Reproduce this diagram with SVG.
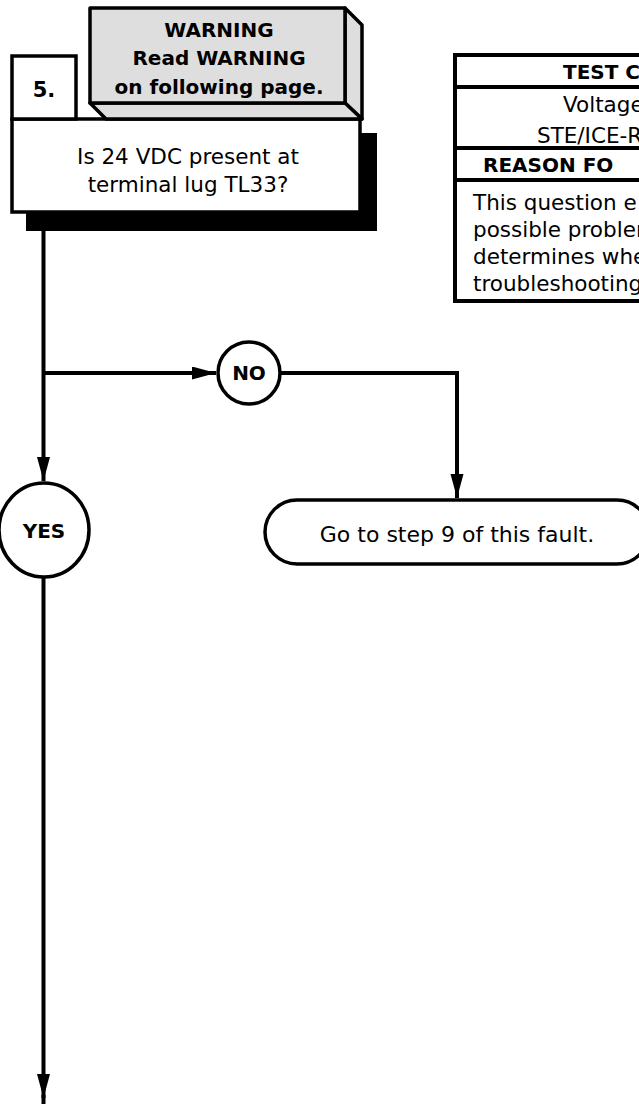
<svg xmlns="http://www.w3.org/2000/svg" width="639" height="1104" viewBox="0 0 639 1104">
<style>
text{font-family:"DejaVu Sans",Verdana,sans-serif;fill:#000}
.r{font-size:21.5px}
.g{font-size:22px}
.b{font-size:20px;font-weight:bold}
.c{text-anchor:middle}
.box{fill:#fff;stroke:#000;stroke-width:3.5}
.gray{fill:#dedede;stroke:#000;stroke-width:3.5;stroke-linejoin:round}
.ln{fill:none;stroke:#000;stroke-width:4}
.tb{fill:none;stroke:#000;stroke-width:4}
</style>
<defs>
<marker id="ah" markerUnits="userSpaceOnUse" markerWidth="25" markerHeight="14" refX="24" refY="6.5" orient="auto">
<path d="M0,0 L24,6.5 L0,13 z" fill="#000"/>
</marker>
</defs>
<rect width="639" height="1104" fill="#fff"/>

<g id="connectors">
<path class="ln" d="M43.5,231 V481" marker-end="url(#ah)"/>
<path class="ln" d="M43.5,373 H216" marker-end="url(#ah)"/>
<path class="ln" d="M281,373 H457 V498" marker-end="url(#ah)"/>
<path class="ln" d="M43.5,577 V1098" marker-end="url(#ah)"/>
<path class="ln" d="M43.5,1095 V1104"/>
</g>

<g id="step5">
<rect x="26" y="133" width="351" height="98" fill="#000"/>
<rect class="box" x="12" y="119" width="348" height="93"/>
<text class="r c" x="188" y="164">Is 24 VDC present at</text>
<text class="r c" x="188" y="192">terminal lug TL33?</text>
<rect class="box" x="12" y="56" width="64" height="63"/>
<text class="b c" x="44" y="97" style="font-size:21px">5.</text>
</g>

<g id="warning">
<polygon class="gray" points="345,8 362,25 362,119 345,103"/>
<polygon class="gray" points="90,103 345,103 362,119 106,119"/>
<rect class="gray" x="90" y="8" width="255" height="95"/>
<text class="b c" x="219" y="37">WARNING</text>
<text class="b c" x="219" y="65">Read WARNING</text>
<text class="b c" x="219" y="94">on following page.</text>
</g>

<g id="no">
<circle class="box" cx="249" cy="373" r="31"/>
<text class="b c" x="249" y="380">NO</text>
</g>

<g id="yes">
<ellipse class="box" cx="44" cy="530" rx="45" ry="47"/>
<text class="b c" x="44" y="538">YES</text>
</g>

<g id="goto">
<rect class="box" x="265" y="500" width="384" height="64" rx="32" ry="32"/>
<text class="g c" x="457" y="542">Go to step 9 of this fault.</text>
</g>

<g id="table">
<rect class="tb" x="455" y="55" width="366" height="246"/>
<line class="tb" x1="455" y1="87" x2="821" y2="87"/>
<line class="tb" x1="455" y1="148" x2="821" y2="148"/>
<line class="tb" x1="455" y1="180" x2="821" y2="180"/>
<text class="b" x="563" y="79">TEST C</text>
<text class="r" x="563" y="112">Voltage</text>
<text class="r" x="537" y="143">STE/ICE-R</text>
<text class="b" x="483" y="172">REASON FO</text>
<text class="r" x="473" y="210">This question e</text>
<text class="r" x="473" y="237">possible problem</text>
<text class="r" x="473" y="264">determines whe</text>
<text class="r" x="473" y="291">troubleshooting</text>
</g>
</svg>
